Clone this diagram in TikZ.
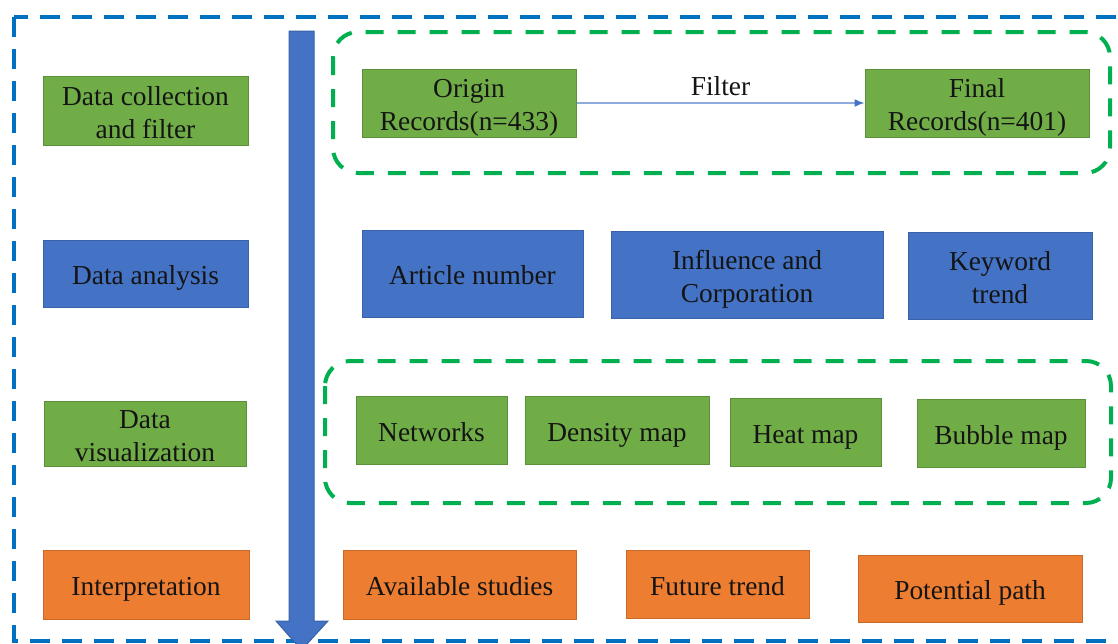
\documentclass[tikz,border=0pt]{standalone}
\usepackage{fontspec}
\setmainfont{Liberation Serif}
\usetikzlibrary{arrows.meta}
\definecolor{gfill}{HTML}{70AD47}
\definecolor{gline}{HTML}{5B9139}
\definecolor{bfill}{HTML}{4472C4}
\definecolor{bline}{HTML}{3A62A8}
\definecolor{ofill}{HTML}{ED7D31}
\definecolor{oline}{HTML}{C9692A}
\definecolor{dgreen}{HTML}{00B050}
\definecolor{dblue}{HTML}{0070C0}
\definecolor{fline}{HTML}{8FAADC}
\definecolor{txt}{HTML}{141414}
\tikzset{
  box/.style={draw, line width=1pt, inner sep=0pt, align=center, text=txt,
    font=\fontsize{27.4}{33}\selectfont, text height=22pt, text depth=0pt},
  two/.style={text height=55pt, text depth=0pt},
  gbox/.style={box, fill=gfill, draw=gline},
  bbox/.style={box, fill=bfill, draw=bline},
  obox/.style={box, fill=ofill, draw=oline},
  sz/.style 2 args={minimum width=#1pt, minimum height=#2pt},
  outerdash/.style={draw=dblue, line width=4.5pt, dash pattern=on 20pt off 12pt},
  groupdash/.style={draw=dgreen, line width=4pt, dash pattern=on 18pt off 14pt, rounded corners=25pt},
  filterline/.style={draw=fline, line width=1.5pt, -{Latex[length=10pt,width=8pt,color=bfill]}},
}
\begin{document}
\begin{tikzpicture}[x=1pt,y=-1pt]
\useasboundingbox (0,0) rectangle (1118,643);
\clip (0,0) rectangle (1118,643);
\fill[white] (0,0) rectangle (1118,643);
% outer dashed frame
\draw[outerdash] (14,17) rectangle (1125,641);
% group frames
\draw[groupdash] (333,32) rectangle (1110,173);
\draw[groupdash] (325,361) rectangle (1111,503);
% big downward arrow
\filldraw[fill=bfill, draw=bline, line width=1pt]
  (289,31) -- (314,31) -- (314,621) -- (328,621) -- (301.5,650) -- (276,621) -- (289,621) -- cycle;
% left column
\node[gbox, two, sz={205}{69}] (dc) at (145.5,110.5) {Data collection\\and filter};
\node[bbox, sz={205}{67}] (da) at (145.5,273.5) {Data analysis};
\node[gbox, two, sz={202}{65}] (dv) at (145,433.5) {Data\\visualization};
\node[obox, sz={206}{69}] (ip) at (146,584.5) {Interpretation};
% row 1
\node[gbox, two, sz={214}{68}] (or) at (469,103) {Origin\\Records(n=433)};
\node[gbox, two, sz={224}{68}] (fr) at (977,103) {Final\\Records(n=401)};
\draw[filterline] (or) -- node[above=3pt, text=txt, font=\fontsize{27.4}{33}\selectfont] (fl) {Filter} (fr);
% row 2
\node[bbox, sz={221}{87}] (an) at (472.5,273.5) {Article number};
\node[bbox, two, sz={272}{87}] (ic) at (747,274.5) {Influence and\\Corporation};
\node[bbox, two, sz={184}{87}] (kt) at (1000,275.5) {Keyword\\trend};
% row 3
\node[gbox, sz={151}{68}] (nw) at (431.5,430) {Networks};
\node[gbox, sz={184}{68}] (dm) at (617,430) {Density map};
\node[gbox, sz={151}{68}] (hm) at (805.5,432) {Heat map};
\node[gbox, sz={168}{68}] (bm) at (1001,433) {Bubble map};
% row 4
\node[obox, sz={233}{69}] (as) at (459.5,584.5) {Available studies};
\node[obox, sz={183}{68}] (ft) at (717.5,584) {Future trend};
\node[obox, sz={224}{67}] (pp) at (970,588.5) {Potential path};
\end{tikzpicture}
\end{document}
